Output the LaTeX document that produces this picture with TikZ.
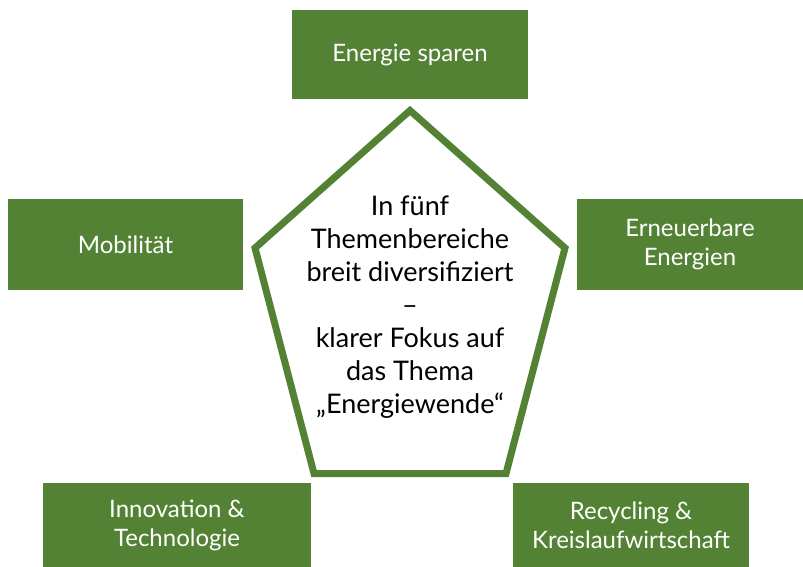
\documentclass[tikz,border=0pt]{standalone}
\usepackage{fontspec}
\setmainfont{Lato}
\definecolor{themegreen}{RGB}{84,130,53}

\begin{document}
\begin{tikzpicture}
      [x = 1pt, y = -1pt,
      topic/.style= {
         fill = themegreen,
         text = white,
         align = center,
         inner sep = 0pt,
         font = \fontsize{24}{29}\selectfont
      },
      pentagon/.style= {
         draw = themegreen,
         line width = 7pt,
         line join = miter,
         fill = white
      }]

      \useasboundingbox (0, 0) rectangle (803, 567);

      \coordinate (apex) at (410, 110.5);
      \coordinate (right) at (565, 248);
      \coordinate (lowright) at (506, 473.5);
      \coordinate (lowleft) at (314, 473.5);
      \coordinate (left) at (255, 248);
      \draw[pentagon] (apex) -- (right) -- (lowright) -- (lowleft) -- (left) -- cycle;

      \node[align = center, font = \fontsize{27}{33}\selectfont] (focus) at (410, 307)
         {In fünf\\Themenbereiche\\breit diversifiziert\\–\\klarer Fokus auf\\das Thema\\„Energiewende“};

      \node[topic, minimum width = 236pt, minimum height = 89pt] (sparen) at (410, 54.5) {Energie sparen};
      \node[topic, minimum width = 235pt, minimum height = 91pt] (mobil) at (125.5, 244.5) {Mobilität};
      \node[topic, minimum width = 226pt, minimum height = 91pt] (erneuerbar) at (690, 244.5) {Erneuerbare\\Energien};
      \node[topic, minimum width = 268pt, minimum height = 84pt] (innovation) at (177, 525) {Innovation \&\\Technologie};
      \node[topic, minimum width = 236pt, minimum height = 84pt] (recycling) at (631, 525) {Recycling \&\\Kreislaufwirtschaft};

\end{tikzpicture}
\end{document}
